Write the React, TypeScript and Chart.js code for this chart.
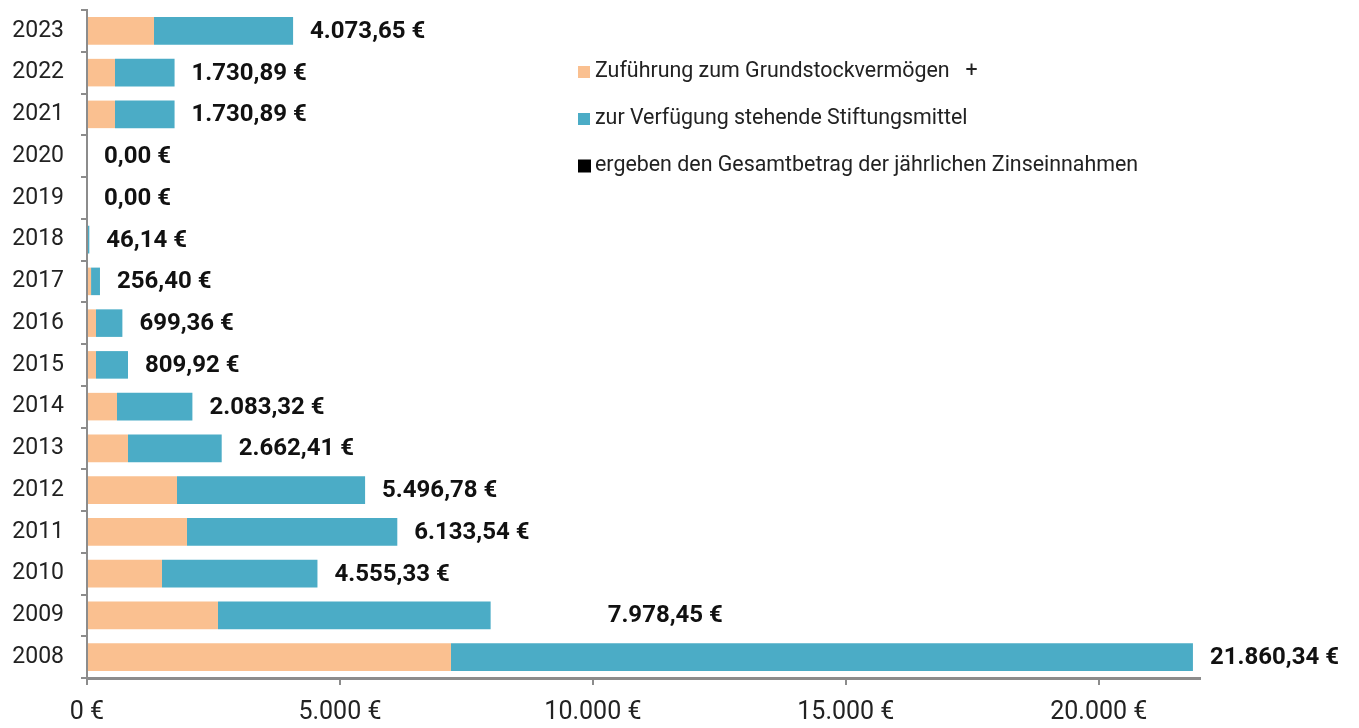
import React, { useEffect, useRef } from "react";
import { Chart, registerables } from "chart.js";

Chart.register(...registerables);

const years = ["2023", "2022", "2021", "2020", "2019", "2018", "2017", "2016", "2015", "2014", "2013", "2012", "2011", "2010", "2009", "2008"];
const totals = [4073.65, 1730.89, 1730.89, 0, 0, 46.14, 256.4, 699.36, 809.92, 2083.32, 2662.41, 5496.78, 6133.54, 4555.33, 7978.45, 21860.34];
const zufuehrung = [1324, 553, 553, 0, 0, 0, 80, 178, 178, 593, 810, 1779, 1976, 1482, 2589, 7194];
const stiftungsmittel = [2749.65, 1177.89, 1177.89, 0, 0, 46.14, 176.4, 521.36, 631.92, 1490.32, 1852.41, 3717.78, 4157.54, 3073.33, 5389.45, 14666.34];
const xTicks = [0, 5000, 10000, 15000, 20000];

const labelZufuehrung = "Zuführung zum Grundstockvermögen   +";
const labelMittel = "zur Verfügung stehende Stiftungsmittel";
const labelTotal = "ergeben den Gesamtbetrag der jährlichen Zinseinnahmen";

const ORANGE = "#FAC090";
const BLUE = "#4BACC6";
const AXIS = "#8c8c8c";

function fmt(v: number, dec: number): string {
  const fixed = v.toFixed(dec);
  const [intPart, decPart] = fixed.split(".");
  const withDots = intPart.replace(/\B(?=(\d{3})+(?!\d))/g, ".");
  return decPart !== undefined ? withDots + "," + decPart : withDots;
}

const valueLabels = {
  id: "valueLabels",
  afterDatasetsDraw(chart: any, _args: any, opts: any) {
    const ctx = chart.ctx;
    const xs = chart.scales.x;
    const ys = chart.scales.y;
    ctx.save();
    ctx.font = "bold 24px Roboto";
    ctx.fillStyle = "#111";
    ctx.textBaseline = "middle";
    ctx.textAlign = "left";
    totals.forEach((t, i) => {
      const extra = (opts.extraOffsets && opts.extraOffsets[years[i]]) || 0;
      const x = xs.getPixelForValue(t) + 17 + extra;
      const y = ys.getPixelForValue(i) + 1;
      ctx.fillText(fmt(t, 2) + " €", x, y);
    });
    ctx.restore();
  },
};

const customLegend = {
  id: "customLegend",
  afterDraw(chart: any, _args: any, opts: any) {
    const ctx = chart.ctx;
    const items = [
      { text: labelZufuehrung, color: ORANGE, size: 12 },
      { text: labelMittel, color: BLUE, size: 12 },
      { text: labelTotal, color: "#000", size: 13 },
    ];
    ctx.save();
    ctx.font = "21.4px Roboto";
    ctx.textBaseline = "middle";
    ctx.textAlign = "left";
    items.forEach((it, i) => {
      const y = opts.y + i * opts.gap;
      ctx.fillStyle = it.color;
      ctx.fillRect(opts.x, y - it.size / 2, it.size, it.size);
      ctx.fillStyle = "#222";
      ctx.fillText(it.text, opts.x + 17, y);
    });
    ctx.restore();
  },
};

export default function App() {
  const ref = useRef<HTMLCanvasElement>(null);
  useEffect(() => {
    document.body.style.margin = "0";
    const chart = new Chart(ref.current!, {
      type: "bar",
      data: {
        labels: years,
        datasets: [
          { label: labelZufuehrung, data: zufuehrung, backgroundColor: ORANGE, barPercentage: 0.66, categoryPercentage: 1 },
          { label: labelMittel, data: stiftungsmittel, backgroundColor: BLUE, barPercentage: 0.66, categoryPercentage: 1 },
        ],
      },
      options: {
        indexAxis: "y",
        animation: false,
        responsive: false,
        layout: { padding: { left: 8, right: 159, top: 10, bottom: 0 } },
        plugins: {
          legend: { display: false },
          tooltip: { enabled: false },
          valueLabels: { extraOffsets: { "2009": 100 } },
          customLegend: { x: 578, y: 72, gap: 47 },
        } as any,
        scales: {
          x: {
            stacked: true,
            min: 0,
            max: 22000,
            afterBuildTicks: (s: any) => {
              s.ticks = xTicks.map((v) => ({ value: v }));
            },
            afterFit: (s: any) => {
              s.height = 50;
            },
            ticks: {
              font: { family: "Roboto", size: 25 },
              color: "#222",
              padding: 13,
              callback: (v: any) => fmt(Number(v), 0) + " €",
            },
            grid: { drawOnChartArea: false, drawTicks: true, tickLength: 7, color: AXIS, lineWidth: 2 },
            border: { display: true, color: AXIS, width: 3 },
          },
          y: {
            stacked: true,
            afterFit: (s: any) => {
              s.width = 79;
              s.paddingTop = 0;
              s.paddingBottom = 0;
            },
            ticks: {
              font: { family: "Roboto", size: 23 },
              color: "#222",
              padding: 17,
            },
            grid: { drawOnChartArea: false, drawTicks: true, tickLength: 6, color: AXIS, lineWidth: 2, offset: true },
            border: { display: true, color: AXIS, width: 2 },
          },
        },
      },
      plugins: [valueLabels, customLegend],
    });
    return () => chart.destroy();
  }, []);
  return <canvas ref={ref} width={1359} height={728} style={{ display: "block" }} />;
}
